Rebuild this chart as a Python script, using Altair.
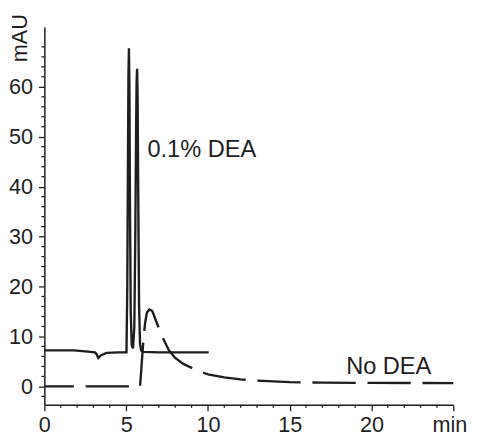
import altair as alt
import pandas as pd

# 0.1% DEA trace (solid)
solid_time = [0.0, 1.0, 1.8, 2.5, 3.1, 3.2, 3.3, 3.45, 3.8, 4.5, 5.02,
              5.07, 5.11, 5.14, 5.17, 5.20, 5.23, 5.28, 5.34, 5.42,
              5.50, 5.56, 5.61, 5.64, 5.67, 5.70, 5.74, 5.79, 5.85, 5.92,
              6.05, 7.0, 8.0, 9.0, 10.05]
solid_mau = [7.2, 7.2, 7.2, 7.0, 6.8, 6.4, 5.7, 6.2, 6.7, 6.8, 6.8,
             20.0, 45.0, 62.0, 67.7, 60.0, 38.0, 15.0, 8.3, 7.6,
             12.0, 30.0, 52.0, 61.0, 63.6, 58.0, 38.0, 16.0, 8.5, 7.2,
             6.9, 6.8, 6.8, 6.8, 6.8]

# No DEA trace (dashed)
dashed_time = [0.0, 2.0, 4.0, 5.85, 5.95, 6.05, 6.15, 6.27, 6.42, 6.6,
               6.9, 7.2, 7.6, 8.0, 8.5, 9.4, 10.0, 11.0, 12.0, 13.0,
               14.0, 15.0, 17.0, 20.0, 25.0]
dashed_mau = [0.0, 0.0, 0.0, 0.0, 4.5, 9.0, 12.5, 14.8, 15.4, 15.1,
              12.5, 10.0, 7.3, 5.7, 4.5, 3.1, 2.4, 1.8, 1.4, 1.15,
              1.0, 0.85, 0.75, 0.7, 0.65]

label_text = ["0.1% DEA", "No DEA"]
label_time = [6.3, 18.45]
label_mau = [47.4, 3.9]

x_major = [0, 5, 10, 15, 20, 25]
x_minor = [v for v in range(0, 26) if v % 5 != 0]
y_major = [0, 10, 20, 30, 40, 50, 60]
y_minor = [v for v in range(-2, 72, 2) if v % 10 != 0]

FONT = "Liberation Sans"
INK = "#1e1e1e"
W, H = 416, 384.5

solid_df = pd.DataFrame({"t": solid_time, "v": solid_mau})
dashed_df = pd.DataFrame({"t": dashed_time, "v": dashed_mau})
label_df = pd.DataFrame({"t": label_time, "v": label_mau, "txt": label_text})
xminor_df = pd.DataFrame({"t": x_minor})
yminor_df = pd.DataFrame({"v": y_minor})

xscale = alt.Scale(domain=[0, 25], nice=False, zero=False)
yscale = alt.Scale(domain=[-3.7, 72.0], nice=False, zero=False)

xaxis = alt.Axis(
    values=x_major,
    labelExpr="datum.value === 25 ? 'min' : datum.label",
    labelOffset={"condition": {"test": "datum.value === 25", "value": -4}, "value": 0},
    tickSize=6, grid=False, title=None, labelFlush=False, labelOverlap=False,
    labelPadding=4,
)
yaxis = alt.Axis(
    values=y_major, tickSize=6,
    grid=False, title="mAU", titleAngle=270, titleX=-25.5, titleY=11,
    titleAlign="center", titleBaseline="middle", labelPadding=6,
    labelOverlap=False, labelFlush=False,
)

solid = alt.Chart(solid_df).mark_line(color=INK, strokeWidth=2.4).encode(
    x=alt.X("t:Q", scale=xscale, axis=xaxis),
    y=alt.Y("v:Q", scale=yscale, axis=yaxis),
    order="t:Q",
)
dashed = alt.Chart(dashed_df).mark_line(
    color=INK, strokeWidth=2.4, strokeDash=[44, 12], strokeDashOffset=14
).encode(
    x=alt.X("t:Q", scale=xscale),
    y=alt.Y("v:Q", scale=yscale),
    order="t:Q",
)
labels = alt.Chart(label_df).mark_text(
    align="left", baseline="middle", font=FONT, fontSize=24, color=INK
).encode(
    x=alt.X("t:Q", scale=xscale),
    y=alt.Y("v:Q", scale=yscale),
    text="txt:N",
)
xminor = alt.Chart(xminor_df).mark_rule(color=INK, strokeWidth=1.3).encode(
    x=alt.X("t:Q", scale=xscale),
    y=alt.value(H), y2=alt.value(H + 3),
)
yminor = alt.Chart(yminor_df).mark_rule(color=INK, strokeWidth=1.3).encode(
    y=alt.Y("v:Q", scale=yscale),
    x=alt.value(0), x2=alt.value(-3),
)

chart = alt.layer(solid, dashed, labels, xminor, yminor).properties(
    width=W, height=H,
    autosize=alt.AutoSizeParams(type="none"),
    padding={"left": 37, "top": 15.5, "right": 16, "bottom": 32},
    background="white",
).configure_view(stroke=None).configure_axis(
    labelFont=FONT, titleFont=FONT, labelFontSize=22, titleFontSize=22,
    labelFontWeight="normal", titleFontWeight="normal",
    labelColor=INK, titleColor=INK, domainColor=INK, tickColor=INK,
    domainWidth=1.5, tickWidth=1.3,
)

chart.save("out.html", embed_options={"renderer": "svg", "actions": False})
